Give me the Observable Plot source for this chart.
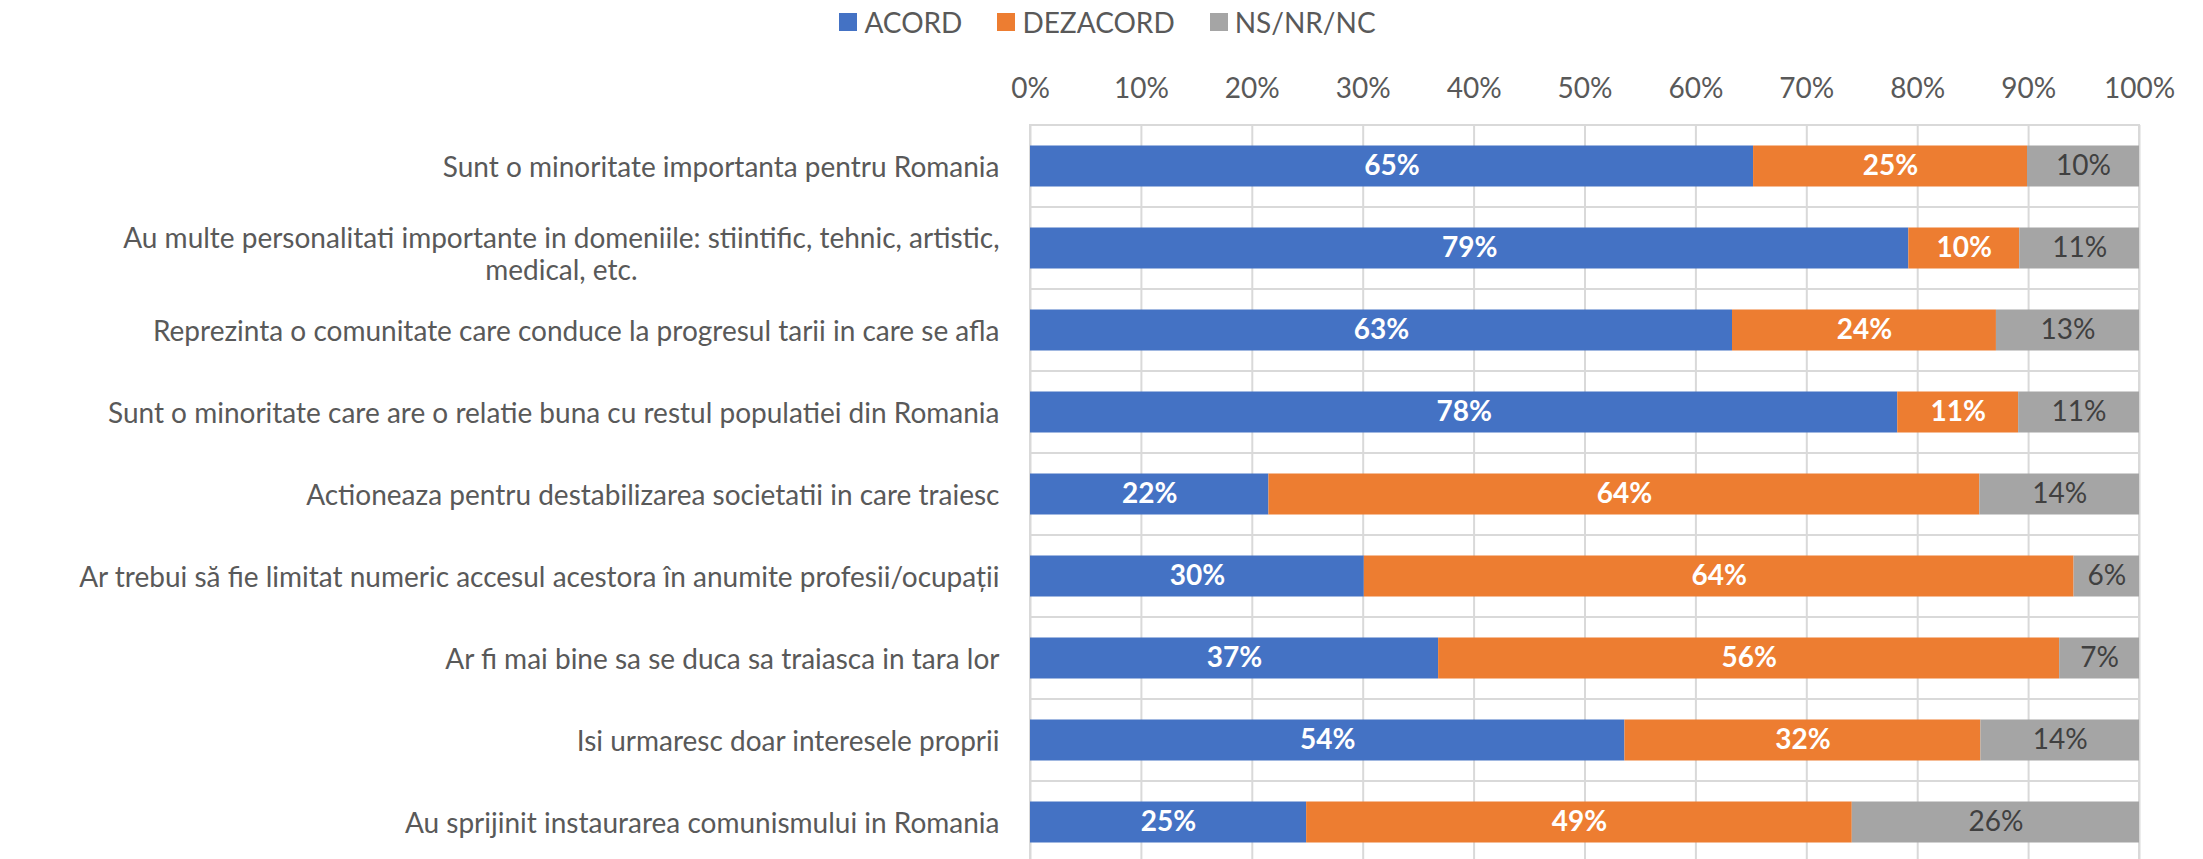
<!DOCTYPE html>
<html>
<head>
<meta charset="utf-8">
<script src="https://cdn.jsdelivr.net/npm/d3@7"></script>
<script src="https://cdn.jsdelivr.net/npm/@observablehq/plot@0.6"></script>
<style>
  body { margin: 0; overflow: hidden; background: white; font-family: Lato, sans-serif; }
  #legend { height: 44px; display: flex; justify-content: center; align-items: center; gap: 35px; padding-left: 12px; font-size: 28px; color: #595959; }
  #legend .item { display: flex; align-items: center; gap: 7px; }
  #legend .sw { width: 18px; height: 18px; display: inline-block; }
</style>
</head>
<body>
<div id="legend"></div>
<div id="chart"></div>
<script>
const categories = [
  "Sunt o minoritate importanta pentru Romania",
  "Au multe personalitati importante in domeniile: stiintific, tehnic, artistic,\nmedical, etc.",
  "Reprezinta o comunitate care conduce la progresul tarii in care se afla",
  "Sunt o minoritate care are o relatie buna cu restul populatiei din Romania",
  "Actioneaza pentru destabilizarea societatii in care traiesc",
  "Ar trebui să fie limitat numeric accesul acestora în anumite profesii/ocupații",
  "Ar fi mai bine sa se duca sa traiasca in tara lor",
  "Isi urmaresc doar interesele proprii",
  "Au sprijinit instaurarea comunismului in Romania"
];
const acord    = [65.2, 79.2, 63.3, 78.2, 21.5, 30.1, 36.8, 53.6, 24.9];
const dezacord = [24.7, 10.0, 23.8, 10.9, 64.1, 64.0, 56.0, 32.1, 49.2];
const nsnrnc   = [10.1, 10.8, 12.9, 10.9, 14.4, 5.9, 7.2, 14.3, 25.9];
const seriesNames = ["ACORD", "DEZACORD", "NS/NR/NC"];
const seriesColors = ["#4472C4", "#ED7D31", "#A5A5A5"];
const xTicks = [0, 10, 20, 30, 40, 50, 60, 70, 80, 90, 100];

const seriesValues = [acord, dezacord, nsnrnc];
const rows = [];
categories.forEach((c, i) => {
  seriesNames.forEach((s, j) => rows.push({cat: c, series: s, value: seriesValues[j][i]}));
});

// legend
const legend = document.getElementById("legend");
seriesNames.forEach((s, j) => {
  const it = document.createElement("div");
  it.className = "item";
  it.innerHTML = `<span class="sw" style="background:${seriesColors[j]}"></span><span>${s}</span>`;
  legend.appendChild(it);
});

const FONT = 28;
const LH = 1.12;
const lab = d => Math.round(d.value) + "%";

const chart = Plot.plot({
  width: 2203,
  height: 830,
  marginTop: 81,
  marginLeft: 1030,
  marginRight: 64,
  marginBottom: 11,
  style: {fontFamily: "Lato, sans-serif", fontSize: FONT + "px", color: "#595959", background: "white"},
  x: {domain: [0, 100]},
  y: {domain: categories, padding: 0},
  color: {domain: seriesNames, range: seriesColors},
  marks: [
    Plot.gridX(xTicks, {stroke: "#d9d9d9", strokeOpacity: 1, strokeWidth: 2}),
    Plot.barX(categories, {x1: 0, x2: 100, y: d => d, fill: "none", stroke: "#d9d9d9", strokeWidth: 2}),
    Plot.barX(rows, {x: "value", y: "cat", z: "series", fill: "series", insetTop: 20.5, insetBottom: 20.5}),
    Plot.text(rows, Plot.stackX({x: "value", y: "cat", z: "series",
      text: d => d.series !== "NS/NR/NC" ? lab(d) : null,
      fill: "white", fontWeight: "bold", fontSize: FONT})),
    Plot.text(rows, Plot.stackX({x: "value", y: "cat", z: "series",
      text: d => d.series === "NS/NR/NC" ? lab(d) : null,
      fill: "#404040", fontSize: FONT})),
    Plot.axisX(xTicks, {anchor: "top", tickSize: 0, tickPadding: 28, tickFormat: d => d + "%", fontSize: FONT, label: null}),
    Plot.axisY({tickSize: 0, tickPadding: 31, fontSize: FONT, lineHeight: LH, label: null})
  ]
});
document.getElementById("chart").appendChild(chart);

// multi-line y tick label: centre the lines on each other (block stays right aligned), nudge block down like Excel
chart.querySelectorAll("text").forEach(t => {
  const spans = Array.from(t.querySelectorAll("tspan"));
  if (spans.length > 1) {
    const lens = spans.map(s => s.getComputedTextLength());
    const W = Math.max(...lens);
    spans.forEach((s, k) => {
      const x0 = parseFloat(s.getAttribute("x")) || 0;
      s.setAttribute("x", x0 - (W - lens[k]) / 2);
    });
    const y0 = parseFloat(spans[0].getAttribute("y")) || 0;
    spans[0].setAttribute("y", (y0 + 0.2) + "em");
  }
});
</script>
</body>
</html>
